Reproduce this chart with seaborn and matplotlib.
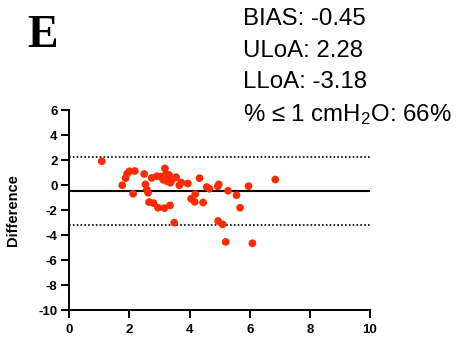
import matplotlib
matplotlib.use("Agg")
import matplotlib.pyplot as plt
import seaborn as sns
import pandas as pd

# Bland-Altman data: mean of the two methods vs. their difference (cmH2O)
means = [1.08, 1.76, 1.87, 1.92, 2.00, 2.18, 2.12, 2.49, 2.53, 2.58,
         2.62, 2.65, 2.80, 2.74, 2.95, 3.16, 3.35, 2.91, 3.18, 3.06,
         3.12, 3.22, 3.28, 3.32, 3.36, 3.42, 3.55, 3.49, 3.66, 3.72,
         3.94, 4.33, 4.57, 4.66, 4.19, 4.05, 4.17, 4.45, 4.97, 4.94,
         4.95, 5.10, 5.20, 5.28, 5.56, 5.68, 5.96, 6.09, 6.85, 3.25]
diffs = [1.90, -0.02, 0.55, 0.90, 1.10, 1.12, -0.70, 0.88, 0.05, -0.38,
         -0.62, -1.37, -1.45, 0.57, -1.82, -1.85, -1.63, 0.70, 1.33, 0.68,
         0.42, 0.88, 0.55, 0.80, 0.18, 0.45, 0.62, -3.01, -0.02, 0.20,
         0.12, 0.55, -0.16, -0.30, -0.72, -1.10, -1.35, -1.40, 0.05, -0.10,
         -2.88, -3.15, -4.55, -0.46, -0.81, -1.82, -0.09, -4.66, 0.44, 0.30]

bias = -0.45
uloa = 2.28
lloa = -3.18
pct_within = 66

x_ticks = [0, 2, 4, 6, 8, 10]
y_ticks = [6, 4, 2, 0, -2, -4, -6, -8, -10]

sns.set_style("ticks", {"axes.edgecolor": "black", "text.color": "black",
                        "xtick.color": "black", "ytick.color": "black",
                        "axes.labelcolor": "black"})
plt.rcParams["font.family"] = ["Liberation Sans", "DejaVu Sans"]
plt.rcParams["mathtext.fontset"] = "custom"
plt.rcParams["mathtext.rm"] = "Liberation Sans"
plt.rcParams["mathtext.it"] = "Liberation Sans"

df = pd.DataFrame({"Mean": means, "Difference": diffs})

fig = plt.figure(figsize=(4.59, 3.39), dpi=100)
ax = fig.add_axes([0.151, 0.0855, 0.655, 0.590])

sns.scatterplot(data=df, x="Mean", y="Difference", ax=ax, color="#ff2a00",
                s=31, edgecolor="none", linewidth=0, clip_on=False, zorder=3)

ax.axhline(bias, color="black", lw=1.5, zorder=2)
ax.axhline(uloa, color="black", lw=1.2, ls=(0, (1, 1.3)), zorder=2)
ax.axhline(lloa, color="black", lw=1.2, ls=(0, (1, 1.3)), zorder=2)

ax.set_xlim(0, 10)
ax.set_ylim(-10, 6)
ax.set_xticks(x_ticks)
ax.set_yticks(y_ticks)
ax.set_xticklabels([str(t) for t in x_ticks], fontweight="bold", fontsize=9.5)
ax.set_yticklabels([str(t) for t in y_ticks], fontweight="bold", fontsize=9.5)
ax.tick_params(axis="both", direction="out", length=5.5, width=1.4, pad=3,
               colors="black")
ax.tick_params(axis="x", pad=4.5)

for side in ("top", "right"):
    ax.spines[side].set_visible(False)
for side in ("left", "bottom"):
    ax.spines[side].set_linewidth(1.4)
    ax.spines[side].set_color("black")

ax.set_xlabel("")
ax.set_ylabel("Difference", fontweight="bold", fontsize=10.5, color="black")
ax.yaxis.set_label_coords(-0.164, 0.5)

fig.text(0.0925, 0.894, "E", family=["Liberation Serif", "DejaVu Serif"],
         fontweight="bold", fontsize=33, ha="center", va="center",
         color="black")

tx = 0.5288
fs = 17.3
fig.text(tx, 0.9263, f"BIAS: {bias:.2f}", fontsize=fs, va="baseline",
         color="black")
fig.text(tx, 0.8328, f"ULoA: {uloa:.2f}", fontsize=fs, va="baseline",
         color="black")
fig.text(tx, 0.7395, f"LLoA: {lloa:.2f}", fontsize=fs, va="baseline",
         color="black")
fig.text(tx, 0.644, f"% \u2264 1 cmH$_2$O: {pct_within}%", fontsize=fs,
         va="baseline", color="black")

fig.savefig("out.png", dpi=100)
